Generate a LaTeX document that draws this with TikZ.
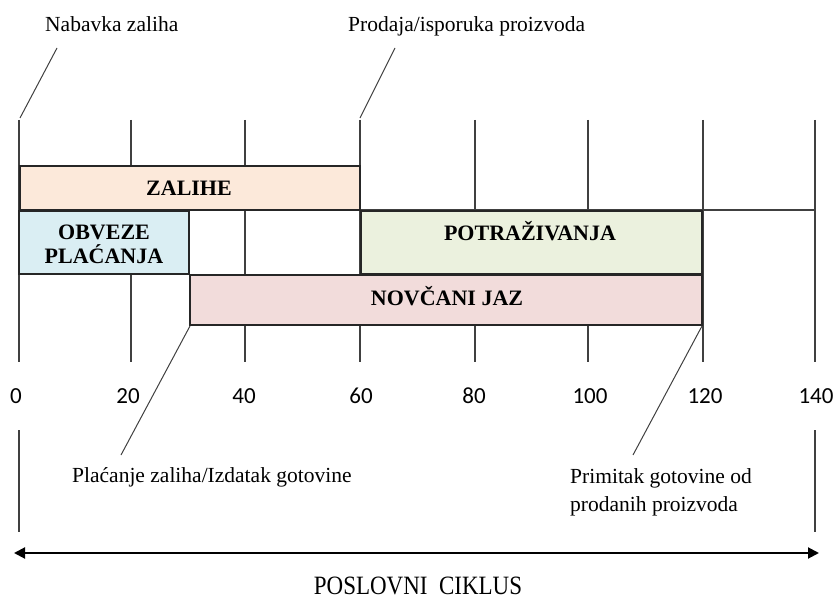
\documentclass[tikz,border=0pt]{standalone}
\usepackage{fontspec}
\setmainfont{Liberation Serif}
\newfontfamily\numfont{Carlito}
\usetikzlibrary{arrows.meta}
\definecolor{zalc}{HTML}{FCE9DA}
\definecolor{obvc}{HTML}{DAEEF3}
\definecolor{potc}{HTML}{EBF1DE}
\definecolor{novc}{HTML}{F2DCDB}
\definecolor{linec}{HTML}{404040}
\begin{document}
\begin{tikzpicture}[x=1pt,y=-1pt,
  tickline/.style={draw=linec, line width=1.2pt},
  boxshape/.style={draw=black!85, line width=1.4pt},
  boxtext/.style={font=\fontsize{22}{24}\selectfont\bfseries, inner sep=0pt, align=center},
  annot/.style={font=\fontsize{21.5}{28}\selectfont, inner sep=0pt, align=left},
  numlbl/.style={font=\numfont\fontsize{23}{24}\selectfont, inner sep=0pt, anchor=base},
  pointer/.style={draw=linec, line width=1pt}]
\useasboundingbox (0,0) rectangle (833,599);

% ticks
\foreach \i/\x in {0/19,1/131,2/245,3/360,4/475,5/588,6/703,7/815}{
  \coordinate (t\i top) at (\x,120);
  \coordinate (t\i bot) at (\x,362);
  \draw[tickline] (t\i top) -- (t\i bot);
}
\coordinate (hL) at (19,210);
\coordinate (hR) at (815,210);
\draw[tickline] (hL) -- (hR);

% boxes
\draw[boxshape, fill=zalc] (20,166) rectangle (360,210);
\node[boxtext] (zal) at (189,188) {ZALIHE};
\draw[boxshape, fill=obvc] (19,211) rectangle (189,274);
\node[boxtext] (obv) at (104,244) {OBVEZE\\PLAĆANJA};
\draw[boxshape, fill=potc] (361,211) rectangle (702,274);
\node[boxtext] (pot) at (530,231) {POTRAŽIVANJA};
\draw[boxshape, fill=novc] (190,275) rectangle (702,325);
\node[boxtext] (nov) at (447,296) {NOVČANI JAZ};

% numbers
\foreach \i/\x/\n in {0/16/0,1/128/20,2/244/40,3/361/60,4/474/80,5/590/100,6/705/120,7/816/140}{
  \node[numlbl] (n\i) at (\x,403) {\n};
}

% annotations top
\node[annot, anchor=base west] (nab) at (45,32) {Nabavka zaliha};
\node[annot, anchor=base west] (pro) at (348,32) {Prodaja/isporuka proizvoda};
\coordinate (nabA) at (57,48);
\coordinate (nabB) at (20,118);
\coordinate (proA) at (395,48);
\coordinate (proB) at (360,118);
\draw[pointer] (nabA) -- (nabB);
\draw[pointer] (proA) -- (proB);

% annotations bottom
\node[annot, anchor=base west] (pla) at (72,482) {Plaćanje zaliha/Izdatak gotovine};
\node[annot, anchor=base west] (pri) at (570,511) {Primitak gotovine od\\prodanih proizvoda};
\coordinate (plaA) at (190,326);
\coordinate (plaB) at (121,455);
\coordinate (priA) at (702,326);
\coordinate (priB) at (633,455);
\draw[pointer] (plaA) -- (plaB);
\draw[pointer] (priA) -- (priB);

% cycle
\coordinate (cL1) at (19,430);
\coordinate (cL2) at (19,532);
\coordinate (cR1) at (815,430);
\coordinate (cR2) at (815,532);
\draw[tickline] (cL1) -- (cL2);
\draw[tickline] (cR1) -- (cR2);
\coordinate (arL) at (14,553);
\coordinate (arR) at (819,553);
\draw[line width=2pt, {Triangle[length=11pt,width=11pt]}-{Triangle[length=11pt,width=11pt]}] (arL) -- (arR);
\node[font=\fontsize{23}{28}\selectfont, inner sep=0pt, anchor=base] (cyc) at (418,594) {\scalebox{1}[1.15]{POSLOVNI\ \ CIKLUS}};
\end{tikzpicture}
\end{document}
